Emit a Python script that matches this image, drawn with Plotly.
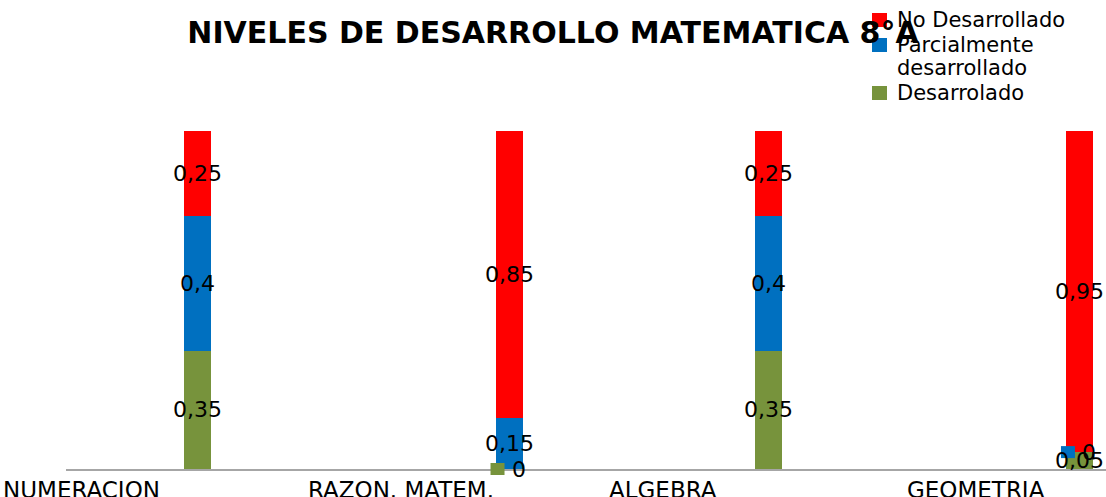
import plotly.graph_objects as go

categories = ["NUMERACION", "RAZON. MATEM.", "ALGEBRA", "GEOMETRIA"]
desarrolado = [0.35, 0.0, 0.35, 0.05]
parcial = [0.40, 0.15, 0.40, 0.0]
no_desarrollado = [0.25, 0.85, 0.25, 0.95]

series = [
    ("Desarrolado", desarrolado, "#77933C"),
    ("Parcialmente<br>desarrollado", parcial, "#0070C0"),
    ("No Desarrollado", no_desarrollado, "#FF0000"),
]

# layout / style (positions in category units)
bar_offsets = [-0.045, 0.152, 0.15, 0.346]
bar_width = 0.104
label_shift = [-0.44, -0.21, -0.205, 0.0]
FONT = "DejaVu Sans"
Y_RANGE = [0, 1]

W, H = 1106, 497
ML, MR, MT, MB = 66, 0, 131, 28
PW, PH = W - ML - MR, H - MT - MB

def px_x(x):
    return (x - ML) / PW

def px_y(y):
    return (H - MB - y) / PH

def y_to_paper(v):
    return (v - Y_RANGE[0]) / (Y_RANGE[1] - Y_RANGE[0])

def fmt(v):
    s = ("%g" % v)
    return s.replace(".", ",")

fig = go.Figure()
for name, vals, col in series:
    fig.add_trace(go.Bar(
        x=categories, y=vals, name=name.replace("<br>", " "),
        marker=dict(color=col, line=dict(width=0)),
        width=[bar_width] * len(categories),
        offset=bar_offsets,
        hoverinfo="skip",
        showlegend=False,
    ))

annotations = []
shapes = []
base = [0.0] * len(categories)
for name, vals, col in series:
    for i, v in enumerate(vals):
        left = i + bar_offsets[i]
        if v == 0:
            shapes.append(dict(
                type="rect", xref="x", yref="paper",
                xsizemode="pixel", ysizemode="pixel",
                xanchor=left, yanchor=y_to_paper(base[i]),
                x0=-5, x1=9, y0=-6, y1=6,
                fillcolor=col, line=dict(width=0),
            ))
            annotations.append(dict(
                x=left, y=base[i], xref="x", yref="y",
                text=fmt(v), showarrow=False, xshift=23,
                font=dict(family=FONT, size=22, color="black"),
            ))
        else:
            annotations.append(dict(
                x=left + bar_width / 2, y=base[i] + v / 2, xref="x", yref="y",
                text=fmt(v), showarrow=False,
                font=dict(family=FONT, size=22, color="black"),
            ))
        base[i] += v

for i, c in enumerate(categories):
    annotations.append(dict(
        x=i + label_shift[i], y=0, xref="x", yref="paper",
        yanchor="top", yshift=-6, text=c, showarrow=False,
        font=dict(family=FONT, size=23, color="black"),
    ))

# custom legend (top-right), top item = last series
leg_rows = [(20, [20]), (45, [45, 68]), (93, [93])]
for (sq_y, text_ys), (name, vals, col) in zip(leg_rows, reversed(series)):
    shapes.append(dict(
        type="rect", xref="paper", yref="paper",
        x0=px_x(872), x1=px_x(887), y0=px_y(sq_y + 7), y1=px_y(sq_y - 7),
        fillcolor=col, line=dict(width=0),
    ))
    for line_text, ty in zip(name.split("<br>"), text_ys):
        annotations.append(dict(
            x=px_x(895), y=px_y(ty), xref="paper", yref="paper",
            xanchor="left", yanchor="middle", text=line_text, showarrow=False,
            font=dict(family=FONT, size=21, color="black"),
        ))

fig.update_layout(
    width=W, height=H,
    margin=dict(l=ML, r=MR, t=MT, b=MB, autoexpand=False),
    barmode="stack",
    plot_bgcolor="white", paper_bgcolor="white",
    font=dict(family=FONT, size=20, color="black"),
    title=dict(text="<b>NIVELES DE DESARROLLO MATEMATICA 8°A</b>",
               x=0.5, xref="container", y=1 - 32 / 497, yref="container",
               xanchor="center", yanchor="middle",
               font=dict(family=FONT, size=30, color="black")),
    xaxis=dict(range=[-0.5, 3.5], showticklabels=False, ticks="",
               showgrid=False, zeroline=False, showline=True,
               linecolor="#A6A6A6", linewidth=2, fixedrange=True),
    yaxis=dict(range=Y_RANGE, visible=False, showgrid=False, fixedrange=True),
    showlegend=False,
    annotations=annotations,
    shapes=shapes,
)

fig.write_html("out.html",
               config={"displayModeBar": False},
               post_script="document.body.style.margin='0';document.body.style.overflow='hidden';")
